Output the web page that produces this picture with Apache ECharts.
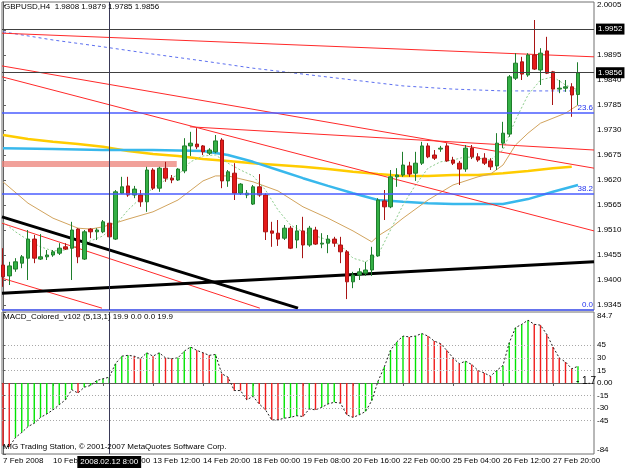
<!DOCTYPE html>
<html>
<head>
<meta charset="utf-8">
<title>GBPUSD,H4</title>
<script src="https://cdn.jsdelivr.net/npm/echarts@6/dist/echarts.min.js"></script>
<style>
  html, body { margin: 0; padding: 0; background: #fff; }
  #chart { width: 625px; height: 469px; }
</style>
</head>
<body>
<div id="chart"></div>
<script>
// H4 bars, index 0 = 7 Feb 2008 16:00
const timeLabelIdx = [0, 8, 16, 24, 32, 40, 48, 56, 64, 72, 80, 88]
const timeLabels = ['7 Feb 2008', '10 Feb 20:00', '12 Feb 04:00', '13 Feb 12:00', '14 Feb 20:00', '18 Feb 00:00',
  '19 Feb 08:00', '20 Feb 16:00', '22 Feb 00:00', '25 Feb 04:00', '26 Feb 12:00', '27 Feb 20:00']

const opens = [1.9433, 1.9409, 1.9424, 1.9437, 1.9448, 1.9490, 1.9446, 1.9451, 1.9455, 1.9459,
  1.9473, 1.9470, 1.9512, 1.9446, 1.9512, 1.9506, 1.9506, 1.9525, 1.9490, 1.9591,
  1.9607, 1.9587, 1.9587, 1.9572, 1.9642, 1.9602, 1.9646, 1.9624, 1.9620, 1.9640,
  1.9695, 1.9699, 1.9695, 1.9679, 1.9682, 1.9708, 1.9618, 1.9635, 1.9591, 1.9587,
  1.9567, 1.9605, 1.9587, 1.9508, 1.9503, 1.9492, 1.9514, 1.9488, 1.9508, 1.9477,
  1.9510, 1.9479, 1.9481, 1.9490, 1.9477, 1.9462, 1.9396, 1.9411, 1.9415, 1.9422,
  1.9453, 1.9574, 1.9561, 1.9627, 1.9631, 1.9651, 1.9635, 1.9657, 1.9695, 1.9675,
  1.9688, 1.9695, 1.9664, 1.9657, 1.9644, 1.9690, 1.9671, 1.9668, 1.9662, 1.9651,
  1.9701, 1.9721, 1.9844, 1.9880, 1.9851, 1.9895, 1.9862, 1.9904, 1.9858, 1.9820,
  1.9822, 1.9825, 1.9808]
const closes = [1.9407, 1.9431, 1.9440, 1.9451, 1.9490, 1.9448, 1.9451, 1.9455, 1.9462, 1.9470,
  1.9468, 1.9510, 1.9451, 1.9506, 1.9506, 1.9510, 1.9528, 1.9495, 1.9594, 1.9605,
  1.9587, 1.9600, 1.9572, 1.9642, 1.9602, 1.9646, 1.9624, 1.9620, 1.9644, 1.9695,
  1.9701, 1.9693, 1.9682, 1.9686, 1.9706, 1.9618, 1.9638, 1.9591, 1.9611, 1.9591,
  1.9605, 1.9587, 1.9506, 1.9503, 1.9490, 1.9514, 1.9470, 1.9508, 1.9477, 1.9514,
  1.9479, 1.9481, 1.9490, 1.9481, 1.9462, 1.9396, 1.9411, 1.9418, 1.9422, 1.9455,
  1.9576, 1.9561, 1.9627, 1.9631, 1.9653, 1.9633, 1.9657, 1.9695, 1.9671, 1.9668,
  1.9690, 1.9662, 1.9657, 1.9644, 1.9690, 1.9671, 1.9664, 1.9657, 1.9649, 1.9701,
  1.9723, 1.9847, 1.9877, 1.9853, 1.9895, 1.9864, 1.9899, 1.9855, 1.9820, 1.9822,
  1.9825, 1.9807, 1.9856]
const lows = [1.9385, 1.9389, 1.9418, 1.9426, 1.9400, 1.9437, 1.9444, 1.9444, 1.9451, 1.9455,
  1.9466, 1.9400, 1.9437, 1.9444, 1.9492, 1.9488, 1.9503, 1.9440, 1.9488, 1.9589,
  1.9583, 1.9580, 1.9561, 1.9550, 1.9598, 1.9594, 1.9616, 1.9613, 1.9618, 1.9635,
  1.9673, 1.9688, 1.9675, 1.9675, 1.9679, 1.9602, 1.9605, 1.9576, 1.9587, 1.9580,
  1.9565, 1.9583, 1.9488, 1.9473, 1.9475, 1.9488, 1.9468, 1.9470, 1.9448, 1.9473,
  1.9477, 1.9470, 1.9459, 1.9473, 1.9437, 1.9358, 1.9382, 1.9400, 1.9409, 1.9409,
  1.9451, 1.9532, 1.9558, 1.9605, 1.9627, 1.9627, 1.9618, 1.9653, 1.9668, 1.9664,
  1.9682, 1.9660, 1.9653, 1.9609, 1.9638, 1.9666, 1.9660, 1.9653, 1.9642, 1.9642,
  1.9690, 1.9715, 1.9840, 1.9840, 1.9847, 1.9862, 1.9829, 1.9853, 1.9785, 1.9811,
  1.9814, 1.9759, 1.9785]
const highs = [1.9470, 1.9440, 1.9448, 1.9455, 1.9510, 1.9499, 1.9501, 1.9466, 1.9466, 1.9481,
  1.9481, 1.9528, 1.9514, 1.9510, 1.9514, 1.9514, 1.9532, 1.9550, 1.9598, 1.9627,
  1.9627, 1.9607, 1.9598, 1.9649, 1.9646, 1.9649, 1.9660, 1.9631, 1.9646, 1.9712,
  1.9726, 1.9734, 1.9697, 1.9690, 1.9719, 1.9712, 1.9642, 1.9657, 1.9613, 1.9598,
  1.9609, 1.9633, 1.9591, 1.9528, 1.9532, 1.9521, 1.9519, 1.9521, 1.9539, 1.9519,
  1.9517, 1.9503, 1.9499, 1.9495, 1.9495, 1.9466, 1.9418, 1.9426, 1.9440, 1.9473,
  1.9580, 1.9598, 1.9642, 1.9646, 1.9682, 1.9660, 1.9682, 1.9704, 1.9701, 1.9686,
  1.9695, 1.9701, 1.9671, 1.9662, 1.9697, 1.9697, 1.9679, 1.9679, 1.9668, 1.9723,
  1.9748, 1.9851, 1.9899, 1.9891, 1.9899, 1.9972, 1.9910, 1.9935, 1.9860, 1.9840,
  1.9840, 1.9833, 1.9879]

// moving averages, [bar index, price]
const maBlueDash = [[0, 1.9946], [8, 1.9928], [16, 1.9913], [24, 1.9897], [32, 1.9882], [40, 1.9866],
  [48, 1.9853], [56, 1.9840], [64, 1.9827], [72, 1.9820], [80, 1.9816], [88, 1.9816], [92, 1.9816]]
const maYellow = [[0, 1.9719], [4, 1.9710], [8, 1.9704], [12, 1.9699], [16, 1.9693], [20, 1.9684],
  [24, 1.9677], [28, 1.9673], [32, 1.9666], [36, 1.9662], [40, 1.9657], [44, 1.9653], [48, 1.9649],
  [52, 1.9644], [56, 1.9638], [60, 1.9633], [64, 1.9629], [68, 1.9629], [72, 1.9631], [76, 1.9631],
  [80, 1.9635], [84, 1.9640], [88, 1.9646], [91, 1.9649]]
const maCyan = [[0, 1.9690], [8, 1.9688], [16, 1.9686], [24, 1.9686], [32, 1.9684], [36, 1.9675],
  [40, 1.9660], [44, 1.9642], [48, 1.9624], [52, 1.9607], [56, 1.9591], [60, 1.9576], [64, 1.9572],
  [68, 1.9569], [72, 1.9567], [76, 1.9567], [80, 1.9567], [84, 1.9578], [88, 1.9594], [92, 1.9609]]
const maTan = [[0, 1.9616], [4, 1.9569], [8, 1.9536], [12, 1.9514], [14, 1.9512], [16, 1.9517],
  [20, 1.9534], [24, 1.9550], [28, 1.9576], [32, 1.9618], [34, 1.9629], [36, 1.9629], [40, 1.9616],
  [44, 1.9596], [48, 1.9561], [52, 1.9536], [56, 1.9508], [59, 1.9484], [60, 1.9497], [62, 1.9514],
  [64, 1.9536], [68, 1.9576], [72, 1.9609], [76, 1.9627], [78, 1.9633], [80, 1.9653], [82, 1.9697],
  [84, 1.9723], [86, 1.9745], [88, 1.9756], [90, 1.9767], [92, 1.9785]]
const maGreenDot = [[0, 1.9528], [2, 1.9506], [4, 1.9488], [6, 1.9473], [8, 1.9464], [10, 1.9466],
  [12, 1.9475], [14, 1.9486], [16, 1.9497], [18, 1.9521], [20, 1.9554], [22, 1.9580], [24, 1.9602],
  [26, 1.9620], [28, 1.9631], [30, 1.9660], [32, 1.9673], [34, 1.9675], [36, 1.9657], [38, 1.9642],
  [40, 1.9629], [42, 1.9598], [44, 1.9554], [46, 1.9521], [48, 1.9506], [50, 1.9497], [52, 1.9488],
  [54, 1.9477], [56, 1.9448], [58, 1.9440], [60, 1.9455], [62, 1.9510], [64, 1.9565], [66, 1.9609],
  [68, 1.9646], [70, 1.9660], [72, 1.9664], [74, 1.9671], [76, 1.9668], [78, 1.9664], [80, 1.9686],
  [82, 1.9752], [84, 1.9807], [86, 1.9840], [88, 1.9847], [90, 1.9829], [92, 1.9818]]

// trend lines [idx1, price1, idx2, price2]
const redLines = [
  [-0.16, 1.9943, 94.56, 1.9891],
  [-0.16, 1.9871, 94.56, 1.9646],
  [-0.16, 1.9847, 94.56, 1.9508],
  [29.9, 1.9737, 94.56, 1.9686],
  [-0.16, 1.9525, 41.1, 1.9338],
  [-0.16, 1.9404, 15.84, 1.9338]
]
const blackLines = [
  [-0.16, 1.9539, 47.2, 1.9338],
  [-0.16, 1.9371, 94.56, 1.9440]
]
const zoneBar = [-0.16, 27.8, 1.9655]

const hLevels = [1.9952, 1.9856]
const fibNames = ['23.6', '38.2', '0.0']
const fibPrices = [1.9767, 1.9589, 1.9334]
const priceTicks = [2.0005, 1.9950, 1.9895, 1.9840, 1.9785, 1.9730, 1.9675, 1.9620, 1.9565, 1.9510, 1.9455, 1.9400, 1.9345]

const crosshairIdx = 17
const crosshairText = '2008.02.12 8:00'

const macd = [-75, -76, -65, -59, -52, -48, -41, -37, -32, -26,
  -20, -8, -12, -5, -3, 3, 5, 7, 23, 32,
  33, 32, 29, 36, 32, 36, 30, 29, 30, 38,
  43, 39, 36, 33, 34, 11, 7, -9, -9, -20,
  -16, -25, -32, -44, -44, -42, -41, -39, -40, -31,
  -32, -29, -25, -23, -24, -38, -41, -38, -34, -21,
  2, 19, 39, 49, 56, 55, 56, 59, 56, 50,
  47, 39, 30, 23, 26, 22, 15, 12, 8, 15,
  21, 48, 66, 70, 75, 70, 69, 58, 43, 30,
  25, 17, 19.9]
const macdLevels = [45, 30, 15, -15, -30, -45]
const macdTicks = [84.7, 45, 30, 15, 0, -15, -30, -45, -84.7]
const macdSideNote = '- 1.7'

const font = 'Liberation Sans, Arial, sans-serif'
const xMin = -0.16
const xMax = 94.56

const chart = echarts.init(document.getElementById('chart'))

const candleData = opens.map((o, i) => [i, o, closes[i], lows[i], highs[i]])
const macdColors = macd.map((v, i) => (i > 0 && v > macd[i - 1]) ? '#00e400' : '#f01c1c')
const last = opens.length - 1

function maSeries (data, color, width, type) {
  return {
    type: 'line', xAxisIndex: 0, yAxisIndex: 0, data: data, symbol: 'none', silent: true, z: 2,
    lineStyle: { color: color, width: width, type: type }
  }
}
function segSeries (seg, color, width) {
  return maSeries([[seg[0], seg[1]], [seg[2], seg[3]]], color, width, 'solid')
}

// horizontal price levels sit on their own line series
const levelSeries = maSeries([], '#000', 1, 'solid')
levelSeries.z = 3
levelSeries.markLine = {
  symbol: ['none', 'none'], silent: true, animation: false, precision: 4,
  data: hLevels.map(v => ({
    yAxis: v,
    lineStyle: { color: '#404040', width: 1, type: 'solid' },
    label: { show: true, position: 'end', distance: 2, formatter: v.toFixed(4), backgroundColor: '#000', color: '#fff', padding: [2, 2, 1, 2], fontSize: 8, fontFamily: font }
  })).concat(fibPrices.map((v, k) => ({
    yAxis: v,
    lineStyle: { color: '#4a5cff', width: 1.5, type: 'solid' },
    label: { show: true, position: 'insideEndTop', distance: 1, formatter: fibNames[k], color: '#2233ee', fontSize: 8, fontFamily: font }
  }))).concat([{
    xAxis: crosshairIdx,
    lineStyle: { color: '#3a3a58', width: 1, type: 'solid' },
    label: { show: false }
  }])
}

const series = [
  maSeries(maBlueDash, '#5c6ff0', 1, [3, 3]),
  maSeries(maYellow, '#ffcc00', 2.5, 'solid'),
  maSeries(maCyan, '#38b8ec', 2.5, 'solid'),
  maSeries(maTan, '#d2a45e', 1, 'solid'),
  maSeries(maGreenDot, '#8ccc8c', 1, [2, 2]),
  segSeries([zoneBar[0], zoneBar[2], zoneBar[1], zoneBar[2]], 'rgba(236,130,120,0.75)', 6),
  levelSeries
]
redLines.forEach(s => series.push(segSeries(s, '#ff2a2a', 1)))
blackLines.forEach(s => series.push(segSeries(s, '#000000', 3)))

series.push({
  type: 'candlestick', xAxisIndex: 0, yAxisIndex: 0, data: candleData, barWidth: 4, z: 4, silent: true,
  itemStyle: { color: '#34b045', color0: '#e41a1a', borderColor: '#1f7d2c', borderColor0: '#a81414', borderWidth: 1 }
})

series.push({
  type: 'bar', xAxisIndex: 1, yAxisIndex: 1, barWidth: 1.4, silent: true,
  data: macd.map((v, i) => [i, v]),
  itemStyle: { color: p => macdColors[p.dataIndex] },
  markLine: {
    symbol: ['none', 'none'], silent: true, animation: false,
    data: [{
      xAxis: crosshairIdx,
      lineStyle: { color: '#3a3a58', width: 1, type: 'solid' },
      label: { show: true, position: 'start', distance: 2, formatter: crosshairText, backgroundColor: '#000', color: '#fff', padding: [2, 3, 2, 3], fontSize: 8, fontFamily: font }
    }]
  }
})
series.push({
  type: 'line', xAxisIndex: 1, yAxisIndex: 1, symbol: 'none', silent: true,
  data: macd.map((v, i) => [i, v]),
  lineStyle: { color: '#222', width: 1, type: [2, 2] },
  markLine: {
    symbol: ['none', 'none'], silent: true, animation: false,
    lineStyle: { color: '#a8a8a8', width: 1, type: [1, 2] },
    label: { show: false },
    data: macdLevels.map(v => ({ yAxis: v }))
  }
})

const plainText = { fontSize: 8, fontWeight: 'normal', color: '#000', fontFamily: font }

const option = {
  animation: false,
  backgroundColor: '#ffffff',
  textStyle: { fontFamily: font },
  title: [
    {
      text: 'GBPUSD,H4  ' + [opens[last], highs[last], lows[last], closes[last]].map(v => v.toFixed(4)).join(' '),
      left: 4, top: 3, padding: 0, textStyle: plainText
    },
    {
      text: 'MACD_Colored_v102 (5,13,1) ' + macd[last].toFixed(1) + ' 0.0 0.0 ' + macd[last].toFixed(1),
      left: 3, top: 313, padding: 0, textStyle: plainText
    },
    {
      text: 'MIG Trading Station, © 2001-2007 MetaQuotes Software Corp.',
      left: 3, top: 443, padding: 0, textStyle: plainText
    },
    {
      text: macdSideNote,
      left: 576, top: 376, padding: 0,
      textStyle: { fontSize: 10, fontWeight: 'normal', color: '#000', fontFamily: font }
    }
  ],
  grid: [
    { left: 2, top: 2, width: 592, height: 308, show: true, borderColor: '#707070', borderWidth: 1 },
    { left: 2, top: 312, width: 592, height: 142, show: true, borderColor: '#707070', borderWidth: 1 }
  ],
  xAxis: [
    {
      gridIndex: 0, type: 'value', min: xMin, max: xMax,
      axisLine: { show: false }, axisTick: { show: false }, axisLabel: { show: false }, splitLine: { show: false }
    },
    {
      gridIndex: 1, type: 'value', min: xMin, max: xMax,
      axisLine: { show: true, lineStyle: { color: '#606060' } },
      axisTick: { show: true, customValues: timeLabelIdx, length: 3, lineStyle: { color: '#606060' } },
      axisLabel: {
        customValues: timeLabelIdx, align: 'left', fontSize: 8, color: '#000', margin: 3, fontFamily: font,
        formatter: v => timeLabels[timeLabelIdx.indexOf(v)]
      },
      splitLine: { show: false }
    }
  ],
  yAxis: [
    {
      gridIndex: 0, type: 'value', position: 'right', min: 1.9334, max: 2.00116,
      axisLine: { show: true, lineStyle: { color: '#606060' } },
      axisTick: { show: true, customValues: priceTicks, length: 3, lineStyle: { color: '#606060' } },
      axisLabel: { customValues: priceTicks, formatter: v => v.toFixed(4), fontSize: 8, color: '#000', margin: 3, fontFamily: font },
      splitLine: { show: false }
    },
    {
      gridIndex: 1, type: 'value', position: 'right', min: -84.7, max: 84.7,
      axisLine: { show: true, lineStyle: { color: '#606060' } },
      axisTick: { show: true, customValues: macdTicks, length: 3, lineStyle: { color: '#606060' } },
      axisLabel: {
        customValues: macdTicks, fontSize: 8, color: '#000', margin: 3, fontFamily: font,
        verticalAlignMaxLabel: 'bottom', verticalAlignMinLabel: 'top',
        formatter: v => v === 0 ? '0.00' : (v === -84.7 ? '-84' : String(v))
      },
      splitLine: { show: false }
    }
  ],
  series: series
}

chart.setOption(option)
</script>
</body>
</html>
